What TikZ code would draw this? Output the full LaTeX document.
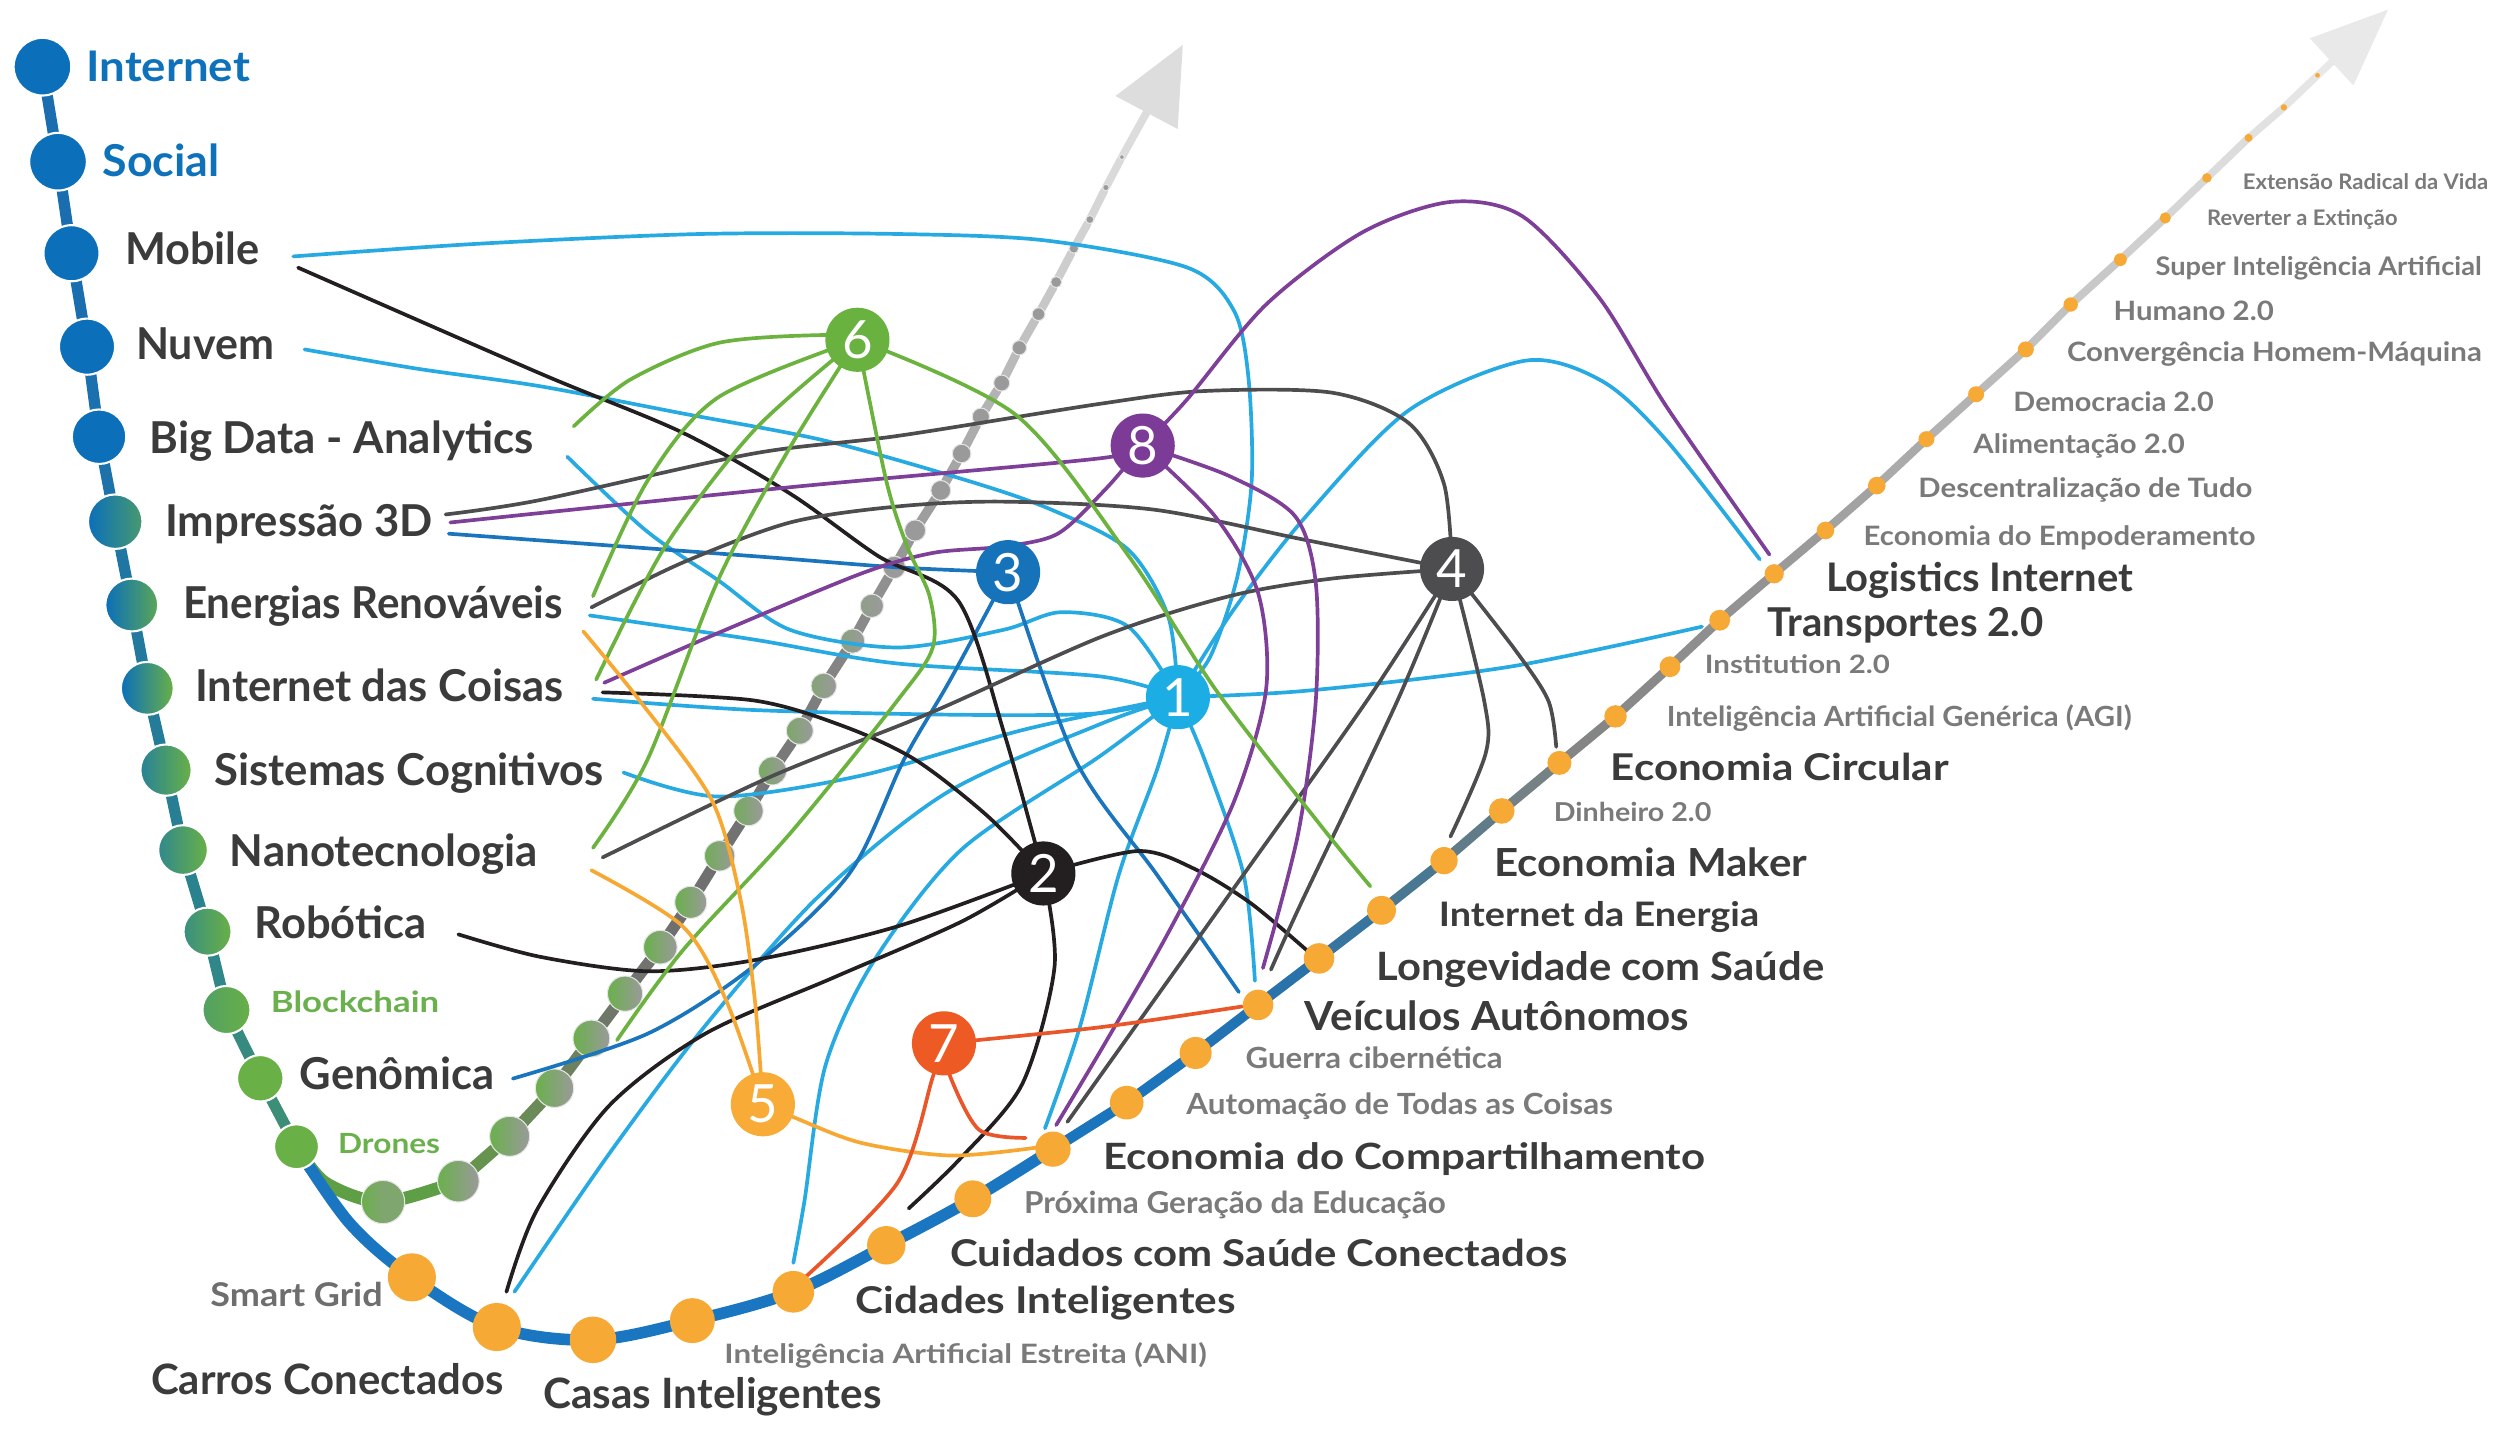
\documentclass[tikz,border=0pt]{standalone}
\usepackage{fontspec}
\setmainfont{Lato}
\usetikzlibrary{calc}
\pgfdeclarelayer{backzero}
\pgfdeclarelayer{back}
\pgfdeclarelayer{mid}
\pgfsetlayers{backzero,back,mid,main}
\newlength\pxu
\setlength\pxu{0.016027cm}
\newcommand\lab[3]{\resizebox{#1\pxu}{\height}{\fontsize{#2}{#2}\selectfont\bfseries #3}}
\definecolor{tdark}{HTML}{3B3B3B}
\definecolor{tgray}{HTML}{7A7A7A}
\definecolor{tblue}{HTML}{0E72BB}
\definecolor{tgreen}{HTML}{6AB04C}
\definecolor{spblue}{HTML}{0B6FBA}
\definecolor{spgreen}{HTML}{69B046}
\definecolor{idgray}{HTML}{9A9A9A}
\definecolor{odot}{HTML}{F6AA35}
\definecolor{cLB}{HTML}{27AAE1}
\definecolor{cDB}{HTML}{1B75BC}
\definecolor{cBK}{HTML}{231F20}
\definecolor{cGY}{HTML}{4D4D4F}
\definecolor{cOR}{HTML}{F7A833}
\definecolor{cGN}{HTML}{6BB23E}
\definecolor{cRD}{HTML}{E9562A}
\definecolor{cPU}{HTML}{7E3F98}
\definecolor{hA}{HTML}{1CADE4}
\definecolor{hB}{HTML}{231F20}
\definecolor{hC}{HTML}{1673BA}
\definecolor{hD}{HTML}{4D4D4F}
\definecolor{hE}{HTML}{F8AB36}
\definecolor{hF}{HTML}{6AB23F}
\definecolor{hG}{HTML}{EE5A24}
\definecolor{hH}{HTML}{7C3B96}
\newcommand\odt[4]{\node[circle, inner sep=0pt, fill=odot, minimum size={#4*0.032054cm}] (#1) at (#2,#3) {};}
\newcommand\idt[6]{\node[circle, inner sep=0pt, minimum size={#4*0.032054cm}, left color=#5, right color=#6, middle color=#5!50!#6, draw=white!80!gray, line width=0.3pt] (#1) at (#2,#3) {};}
\newcommand\spd[6]{\node[circle, inner sep=0pt, minimum size={#4*0.016027cm}, left color=#5, right color=#6, draw=white, line width=0.6pt] (#1) at (#2,#3) {};}
\tikzset{
  lbl/.style={anchor=base west, inner sep=0pt, outer sep=0pt},
  hub/.style={circle, inner sep=0pt, minimum size=0.641cm, text=white, font=\fontsize{15}{15}\selectfont},
  conn/.style={line width=1.05pt, line cap=round, line join=round},
}
\begin{document}
\begin{tikzpicture}[x=0.016027cm,y=-0.016027cm]
\useasboundingbox (0,0) rectangle (1568,903);

% ---------- spine nodes ----------
\spd{s1}{26.5}{41.6}{36}{spblue}{spblue}
\spd{s2}{36.2}{100.9}{36}{spblue}{spblue}
\spd{s3}{44.6}{158}{35}{spblue}{spblue}
\spd{s4}{54.3}{216.3}{35}{spblue}{spblue}
\spd{s5}{61.8}{272.5}{34}{spblue}{spblue}
\spd{s6}{71.9}{325.5}{34}{spblue}{spgreen!65!spblue}
\spd{s7}{82.2}{377.5}{33}{spblue}{spgreen!85!spblue}
\spd{s8}{91.9}{429.5}{33}{spblue}{spgreen}
\spd{s9}{103.6}{480.5}{32}{spgreen!30!spblue}{spgreen}
\spd{s10}{114.2}{530.4}{31}{spgreen!40!spblue}{spgreen}
\spd{s11}{129.5}{581.3}{30}{spgreen!50!spblue}{spgreen}
\spd{s12}{141.3}{630.2}{30}{spgreen!75!spblue}{spgreen}
\spd{s13}{162.4}{672.8}{29}{spgreen}{spgreen}
\spd{s14}{185}{715.5}{28}{spgreen}{spgreen}

% ---------- orange dots ----------
\odt{d1}{257}{797}{15}
\odt{d2}{310}{828}{15}
\odt{d3}{370}{836}{14.5}
\odt{d4}{432}{824}{14}
\odt{d5}{495}{806}{13}
\odt{d6}{553}{777}{12}
\odt{d7}{607}{748}{11.5}
\odt{d8}{657}{717}{11}
\odt{d9}{703}{688}{10.5}
\odt{d10}{746}{657}{10}
\odt{d11}{785}{627}{9.5}
\odt{d12}{823}{598}{9.5}
\odt{d13}{862}{568}{9}
\odt{d14}{901}{537}{8.5}
\odt{d15}{937}{506}{8}
\odt{d16}{973}{476}{7.5}
\odt{d17}{1008}{447}{7}
\odt{d18}{1042}{416}{6.5}
\odt{d19}{1073}{387}{6.5}
\odt{d20}{1107}{358}{6}
\odt{d21}{1139}{331}{5.5}
\odt{d22}{1171}{303}{5.5}
\odt{d23}{1202}{274}{5}
\odt{d24}{1233}{246}{5}
\odt{d25}{1264}{218}{5}
\odt{d26}{1292}{190}{4.5}
\odt{d27}{1323}{162}{4}
\odt{d28}{1351}{136}{3.5}
\odt{d29}{1377}{111}{3}
\odt{d30}{1403}{86}{2.5}
\odt{d31}{1425}{67}{2}
\odt{d32}{1446}{47}{1.5}
\coordinate (mhb) at (1455,38.6);

% ---------- hubs ----------
\node[hub, fill=hA] (h1) at (735,435) {1};
\node[hub, fill=hB] (h2) at (651,545) {2};
\node[hub, fill=hC] (h3) at (629,357) {3};
\node[hub, fill=hD] (h4) at (906,355) {4};
\node[hub, fill=hE] (h5) at (476,689) {5};
\node[hub, fill=hF] (h6) at (535,212) {6};
\node[hub, fill=hG] (h7) at (589,651) {7};
\node[hub, fill=hH] (h8) at (713,278) {8};

% ---------- labels ----------
\node[lbl, text=tblue] (lInt) at (54,51) {\lab{102}{12}{Internet}};
\node[lbl, text=tblue] (lSoc) at (64,110) {\lab{73}{12.5}{Social}};
\node[lbl, text=tdark] (lMob) at (78,165.3) {\lab{84}{12.5}{Mobile}};
\node[lbl, text=tdark] (lNuv) at (85,224.6) {\lab{86}{12.5}{Nuvem}};
\node[lbl, text=tdark] (lBig) at (93.3,282.8) {\lab{239.6}{12.5}{Big Data - Analytics}};
\node[lbl, text=tdark] (lImp) at (103,334.8) {\lab{167}{12.5}{Impressão 3D}};
\node[lbl, text=tdark] (lEne) at (114.2,385.8) {\lab{237}{12.5}{Energias Renováveis}};
\node[lbl, text=tdark] (lIoT) at (121.8,437.8) {\lab{229.7}{12.5}{Internet das Coisas}};
\node[lbl, text=tdark] (lSis) at (133.8,489.8) {\lab{242.8}{12.5}{Sistemas Cognitivos}};
\node[lbl, text=tdark] (lNan) at (143.4,540.8) {\lab{192.3}{12.5}{Nanotecnologia}};
\node[lbl, text=tdark] (lRob) at (158.8,585.5) {\lab{107.2}{12.5}{Robótica}};
\node[lbl, text=tgreen] (lBlo) at (169,632) {\lab{105}{8.3}{Blockchain}};
\node[lbl, text=tdark] (lGen) at (187,680) {\lab{121.4}{12.5}{Genômica}};
\node[lbl, text=tgreen] (lDro) at (211,719.6) {\lab{63.6}{7.9}{Drones}};
\node[lbl, text=tgray!90!black] (lSma) at (131.3,815.3) {\lab{107.5}{9.3}{Smart Grid}};
\node[lbl, text=tdark] (lCar) at (94.3,870.4) {\lab{220}{11.9}{Carros Conectados}};
\node[lbl, text=tdark] (lCas) at (339,878.6) {\lab{211}{11.9}{Casas Inteligentes}};
\node[lbl, text=tgray] (lANI) at (452,850.6) {\lab{301}{7.6}{Inteligência Artificial Estreita (ANI)}};
\node[lbl, text=tdark] (lCid) at (534,819.4) {\lab{237}{10.5}{Cidades Inteligentes}};
\node[lbl, text=tdark] (lCui) at (593,790.3) {\lab{385}{10.5}{Cuidados com Saúde Conectados}};
\node[lbl, text=tgray] (lPro) at (639,757) {\lab{263}{8.6}{Próxima Geração da Educação}};
\node[lbl, text=tdark] (lEco) at (688.5,730) {\lab{375.5}{10.3}{Economia do Compartilhamento}};
\node[lbl, text=tgray] (lAut) at (740.3,695.1) {\lab{266}{8.3}{Automação de Todas as Coisas}};
\node[lbl, text=tgray] (lGue) at (777.2,666.6) {\lab{160.4}{8.3}{Guerra cibernética}};
\node[lbl, text=tdark] (lVei) at (814,642.7) {\lab{240}{11.4}{Veículos Autônomos}};
\node[lbl, text=tdark] (lLon) at (858.8,611.5) {\lab{279.4}{11.1}{Longevidade com Saúde}};
\node[lbl, text=tdark] (lIEn) at (897.8,578.2) {\lab{199.8}{9.6}{Internet da Energia}};
\node[lbl, text=tdark] (lMak) at (932.5,547) {\lab{195}{11}{Economia Maker}};
\node[lbl, text=tgray] (lDin) at (969.5,512.7) {\lab{98.3}{7.4}{Dinheiro 2.0}};
\node[lbl, text=tdark] (lCir) at (1005,486.7) {\lab{211}{10.5}{Economia Circular}};
\node[lbl, text=tgray] (lAGI) at (1040,453) {\lab{290}{7.9}{Inteligência Artificial Genérica (AGI)}};
\node[lbl, text=tgray] (lIns) at (1063.8,420.2) {\lab{115.4}{7.2}{Institution 2.0}};
\node[lbl, text=tdark] (lTra) at (1103,397.3) {\lab{172}{11.3}{Transportes 2.0}};
\node[lbl, text=tdark] (lLog) at (1139.4,369) {\lab{191.4}{11.2}{Logistics Internet}};
\node[lbl, text=tgray] (lEmp) at (1162.8,340.3) {\lab{244.6}{7.6}{Economia do Empoderamento}};
\node[lbl, text=tgray] (lDes) at (1197,310.4) {\lab{208.4}{7.6}{Descentralização de Tudo}};
\node[lbl, text=tgray] (lAli) at (1231.3,283) {\lab{131.8}{7.6}{Alimentação 2.0}};
\node[lbl, text=tgray] (lDem) at (1256.3,256.7) {\lab{124.9}{7.6}{Democracia 2.0}};
\node[lbl, text=tgray] (lCon) at (1289.7,225.7) {\lab{258.8}{7.6}{Convergência Homem-Máquina}};
\node[lbl, text=tgray] (lHum) at (1318.8,200.1) {\lab{99.9}{7.6}{Humano 2.0}};
\node[lbl, text=tgray] (lSup) at (1345,171.9) {\lab{203.5}{7.3}{Super Inteligência Artificial}};
\node[lbl, text=tgray] (lRev) at (1377.2,140.9) {\lab{118.8}{6.1}{Reverter a Extinção}};
\node[lbl, text=tgray] (lExt) at (1399.4,118.2) {\lab{153.1}{6.1}{Extensão Radical da Vida}};

% ---------- connector end points ----------
\coordinate (mobA) at (183,160); \coordinate (mobB) at (186,167);
\coordinate (nuvA) at (190,218);
\coordinate (bdG) at (358,266); \coordinate (bdB) at (354,285);
\coordinate (impK) at (278,321); \coordinate (impP) at (281,326); \coordinate (impB) at (280,333);
\coordinate (enG) at (370,372); \coordinate (enK) at (369,379); \coordinate (enB) at (368,384); \coordinate (enO) at (364,394);
\coordinate (iotG) at (372,424); \coordinate (iotP) at (377,426); \coordinate (iotK) at (376,432); \coordinate (iotB) at (370,436);
\coordinate (sisB) at (389,482);
\coordinate (nanG) at (370,529); \coordinate (nanK) at (376,535); \coordinate (nanO) at (369,543);
\coordinate (robK) at (286,583);
\coordinate (blkG) at (385,649);
\coordinate (genB) at (320,673);
\coordinate (carK) at (316,806); \coordinate (carB) at (321,806);
\coordinate (cidB) at (495,788); \coordinate (cidR) at (499,800);
\coordinate (cuiK) at (567,754);
\coordinate (ecO) at (647,716); \coordinate (ecR) at (640,710); \coordinate (ecB) at (652,704); \coordinate (ecP) at (659,702); \coordinate (ecK) at (666,700);
\coordinate (veB3) at (773,619); \coordinate (veB1) at (783,612); \coordinate (veP) at (788,604); \coordinate (veK) at (793,605); \coordinate (veR) at (775,628);
\coordinate (lonK) at (820,597);
\coordinate (ieG) at (855,553);
\coordinate (emK) at (905,522);
\coordinate (ecircK) at (971,466);
\coordinate (trB) at (1062,391);
\coordinate (logB) at (1098,349); \coordinate (logP) at (1104,346);

% ---------- background: spine, main line, inner arrow dots ----------
\begin{pgfonlayer}{back}
  \foreach \a/\b/\c in {s1/s2/1A6EB0,s2/s3/1A6EB0,s3/s4/1A6EB0,s4/s5/1B70AE,s5/s6/1D73A9,s6/s7/2076A3,s7/s8/23799D,s8/s9/257C98,s9/s10/287F94,s10/s11/2B828F,s11/s12/308689,s12/s13/368A80,s13/s14/3D8E76}{
    \definecolor{tmpc}{HTML}{\c}
    \draw[line width=3.2pt, tmpc, line cap=round] (\a.center) -- (\b.center);
  }
  \draw[line width=3.3pt, color={rgb,255:red,26;green,118;blue,192}, line cap=round]
    plot[smooth, tension=0.55] coordinates {(s14.center) (218,763) (d1.center) (d2.center) (d3.center) (d4.center) (d5.center) (d6.center) (d7.center) (d8.center)};
  \foreach \a/\b/\c/\w in {d8/d9/1A75BD/3.0, d9/d10/1C74BA/2.95, d10/d11/2173B3/2.9, d11/d12/2A72AA/2.85, d12/d13/37749F/2.8, d13/d14/4A7893/2.75, d14/d15/607C88/2.7, d15/d16/758184/2.65, d16/d17/848585/2.6, d17/d18/898989/2.55, d18/d19/8E8E8E/2.55, d19/d20/939393/2.5, d20/d21/9A9A9A/2.45, d21/d22/A2A2A2/2.4, d22/d23/AAAAAA/2.35, d23/d24/B2B2B2/2.35, d24/d25/BABABA/2.3, d25/d26/C1C1C1/2.25, d26/d27/C8C8C8/2.25, d27/d28/CFCFCF/2.2, d28/d29/D6D6D6/2.15, d29/d30/DCDCDC/2.15, d30/d31/E1E1E1/2.1, d31/d32/E5E5E5/2.1, d32/mhb/E8E8E8/2.05}{
    \definecolor{tmpc}{HTML}{\c}
    \draw[line width=\w pt, tmpc, line cap=round] (\a.center) -- (\b.center);
  }
  \fill[color={rgb,255:red,233;green,233;blue,233}] (1490,6) -- (1468.4,53.3) -- (1441.2,23.9) -- cycle;

  \idt{i1}{239}{750}{13.5}{tgreen}{tgreen!55!idgray}
  \idt{i2}{286}{737}{13}{tgreen}{idgray}
  \idt{i3}{318}{709}{12.5}{tgreen}{idgray}
  \idt{i4}{346}{679}{12}{tgreen}{idgray}
  \idt{i5}{369}{648}{11.5}{tgreen}{idgray}
  \idt{i6}{390}{620}{11}{tgreen}{idgray}
  \idt{i7}{412}{591}{10.5}{tgreen}{idgray}
  \idt{i8}{431}{563}{10}{tgreen}{idgray}
  \idt{i9}{449}{534}{9.5}{tgreen!85!idgray}{idgray}
  \idt{i10}{467}{506}{9.2}{tgreen!80!idgray}{idgray}
  \idt{i11}{482}{481}{8.8}{tgreen!70!idgray}{idgray}
  \idt{i12}{499}{456}{8.4}{tgreen!60!idgray}{idgray}
  \idt{i13}{514}{428}{8}{tgreen!45!idgray}{idgray}
  \idt{i14}{532}{400}{7.6}{tgreen!35!idgray}{idgray}
  \idt{i15}{544}{378}{7.3}{tgreen!20!idgray}{idgray}
  \idt{i16}{558}{354}{7}{idgray}{idgray}
  \idt{i17}{571}{331}{6.6}{idgray}{idgray}
  \idt{i18}{587}{306}{6.2}{idgray}{idgray}
  \idt{i19}{600}{283}{5.8}{idgray}{idgray}
  \idt{i20}{612}{260}{5.4}{idgray}{idgray}
  \idt{i21}{625}{239}{5}{idgray}{idgray}
  \idt{i22}{636}{217}{4.5}{idgray}{idgray}
  \idt{i23}{648}{196}{4}{idgray}{idgray}
  \idt{i24}{659}{176}{3.5}{idgray}{idgray}
  \idt{i25}{670}{155}{3}{idgray}{idgray}
  \idt{i26}{680}{137}{2.5}{idgray}{idgray}
  \idt{i27}{690}{117}{2}{idgray}{idgray}
  \idt{i28}{700}{98}{1.5}{idgray}{idgray}
  \coordinate (ihb) at (715.4,70.2);
\end{pgfonlayer}

% ---------- inner arrow line (under its dots) ----------
\begin{pgfonlayer}{backzero}
  \draw[line width=3.6pt, color={rgb,255:red,94;green,159;blue,70}, line cap=round]
    plot[smooth] coordinates {(s14.center) (203,738) (i1.center) (i2.center)};
  \foreach \a/\b/\c/\w in {i2/i3/66944F/3.5, i3/i4/6A8A58/3.45, i4/i5/6D8060/3.4, i5/i6/6F7868/3.35, i6/i7/70736E/3.3, i7/i8/6F6F6F/3.25, i8/i9/707070/3.2, i9/i10/727272/3.1, i10/i11/757575/3.05, i11/i12/797979/3.0, i12/i13/7E7E7E/2.95, i13/i14/848484/2.9, i14/i15/8A8A8A/2.85, i15/i16/909090/2.8, i16/i17/979797/2.75, i17/i18/9E9E9E/2.7, i18/i19/A5A5A5/2.65, i19/i20/ACACAC/2.6, i20/i21/B3B3B3/2.55, i21/i22/BABABA/2.5, i22/i23/C1C1C1/2.45, i23/i24/C7C7C7/2.4, i24/i25/CDCDCD/2.35, i25/i26/D2D2D2/2.3, i26/i27/D6D6D6/2.25, i27/i28/DADADA/2.2, i28/ihb/DCDCDC/2.2}{
    \definecolor{tmpc}{HTML}{\c}
    \draw[line width=\w pt, tmpc, line cap=round] (\a.center) -- (\b);
  }
  \fill[color={rgb,255:red,221;green,221;blue,221}] (738,28) -- (734.8,80.5) -- (696,59.9) -- cycle;
\end{pgfonlayer}

% ---------- connectors ----------
\begin{pgfonlayer}{mid}
  \draw[conn, cLB] plot[smooth] coordinates {(mobA) (300,152) (437,146) (560,146) (652,150) (741,167) (770,194) (779,236) (781,300) (772,360) (755,410) (h1)};
  \draw[conn, cLB] plot[smooth] coordinates {(nuvA) (260,230) (337,241) (426,258) (515,275) (604,300) (656,318) (704,343) (729,385) (h1)};
  \draw[conn, cLB] plot[smooth] coordinates {(bdB) (403,331) (448,362) (493,393) (560,404) (626,393) (662,382) (704,391) (h1)};
  \draw[conn, cLB] plot[smooth] coordinates {(enB) (470,399) (560,414) (686,422) (h1)};
  \draw[conn, cLB] plot[smooth] coordinates {(iotB) (470,443) (600,446) (686,445) (h1)};
  \draw[conn, cLB] plot[smooth] coordinates {(sisB) (448,497) (537,484) (640,455) (h1)};
  \draw[conn, cLB] plot[smooth] coordinates {(h1) (686,452) (590,495) (510,560) (440,640) (380,720) (carB)};
  \draw[conn, cLB] plot[smooth] coordinates {(h1) (686,472) (600,530) (545,600) (515,665) (502,749) (cidB)};
  \draw[conn, cLB] plot[smooth] coordinates {(h1) (722,480) (698,546) (674,640) (ecB)};
  \draw[conn, cLB] plot[smooth] coordinates {(h1) (752,475) (776,546) (veB1)};
  \draw[conn, cLB] plot[smooth] coordinates {(h1) (815,431) (942,416) (trB)};
  \draw[conn, cLB] plot[smooth] coordinates {(h1) (770,380) (815,322) (879,256) (952,225) (1000,238) (1040,275) (logB)};
  \draw[conn, cDB] plot[smooth] coordinates {(impB) (470,347) (560,354) (h3)};
  \draw[conn, cDB] plot[smooth] coordinates {(genB) (404,645) (470,603) (530,545) (564,474) (593,424) (h3)};
  \draw[conn, cDB] plot[smooth] coordinates {(h3) (671,474) (722,546) (veB3)};
  \draw[conn, cBK] plot[smooth] coordinates {(mobB) (337,233) (426,270) (493,308) (548,347) (598,375) (627,459) (h2)};
  \draw[conn, cBK] plot[smooth] coordinates {(iotK) (470,437) (526,453) (571,474) (616,509) (h2)};
  \draw[conn, cBK] plot[smooth] coordinates {(robK) (337,597) (404,606) (471,599) (560,578) (h2)};
  \draw[conn, cBK] plot[smooth] coordinates {(carK) (335,755) (380,690) (440,645) (520,610) (600,575) (h2)};
  \draw[conn, cBK] plot[smooth] coordinates {(h2) (658,603) (638,676) (600,722) (cuiK)};
  \draw[conn, cBK] plot[smooth] coordinates {(h2) (710,531) (745,542) (781,564) (lonK)};
  \draw[conn, cGY] plot[smooth] coordinates {(impK) (337,312) (470,283) (560,272) (686,252) (751,244) (831,245) (879,264) (901,302) (h4)};
  \draw[conn, cGY] plot[smooth] coordinates {(enK) (426,351) (493,326) (560,316) (626,313) (720,318) (815,337) (h4)};
  \draw[conn, cGY] plot[smooth] coordinates {(nanK) (480,485) (580,445) (688,397) (767,372) (831,361) (h4)};
  \draw[conn, cGY] plot[smooth] coordinates {(h4) (853,437) (765,561) (ecK)};
  \draw[conn, cGY] plot[smooth] coordinates {(h4) (872,437) (813,561) (veK)};
  \draw[conn, cGY] plot[smooth] coordinates {(h4) (926,437) (927,470) (emK)};
  \draw[conn, cGY] plot[smooth] coordinates {(h4) (945,405) (966,437) (ecircK)};
  \draw[conn, cPU] plot[smooth] coordinates {(impP) (493,304) (686,286) (h8)};
  \draw[conn, cPU] plot[smooth] coordinates {(iotP) (448,395) (537,358) (582,345) (626,341) (660,333) (690,305) (h8)};
  \draw[conn, cPU] plot[smooth] coordinates {(h8) (740,250) (790,190) (850,145) (905,126) (950,135) (998,186) (1040,254) (logP)};
  \draw[conn, cPU] plot[smooth] coordinates {(h8) (767,297) (808,322) (821,364) (821,437) (810,520) (veP)};
  \draw[conn, cPU] plot[smooth] coordinates {(h8) (758,322) (785,370) (790,430) (770,500) (730,580) (690,650) (ecP)};
  \draw[conn, cGN] plot[smooth] coordinates {(h6) (515,209) (448,214) (393,237) (bdG)};
  \draw[conn, cGN] plot[smooth] coordinates {(h6) (448,248) (404,300) (enG)};
  \draw[conn, cGN] plot[smooth] coordinates {(h6) (471,268) (415,341) (iotG)};
  \draw[conn, cGN] plot[smooth] coordinates {(h6) (493,279) (448,362) (404,474) (nanG)};
  \draw[conn, cGN] plot[smooth] coordinates {(h6) (553,300) (566,341) (580,372) (582,404) (560,437) (493,520) (426,593) (blkG)};
  \draw[conn, cGN] plot[smooth] coordinates {(h6) (634,259) (705,348) (759,431) (824,515) (ieG)};
  \draw[conn, cOR] plot[smooth] coordinates {(enO) (399,437) (444,499) (462,561) (471,624) (h5)};
  \draw[conn, cOR] plot[smooth] coordinates {(nanO) (426,578) (453,624) (h5)};
  \draw[conn, cOR] plot[smooth] coordinates {(h5) (495,697) (537,713) (593,721) (ecO)};
  \draw[conn, cRD] plot[smooth] coordinates {(h7) (686,641) (veR)};
  \draw[conn, cRD] plot[smooth] coordinates {(h7) (593,672) (611,705) (ecR)};
  \draw[conn, cRD] plot[smooth] coordinates {(h7) (582,672) (560,738) (cidR)};
\end{pgfonlayer}
\end{tikzpicture}
\end{document}
